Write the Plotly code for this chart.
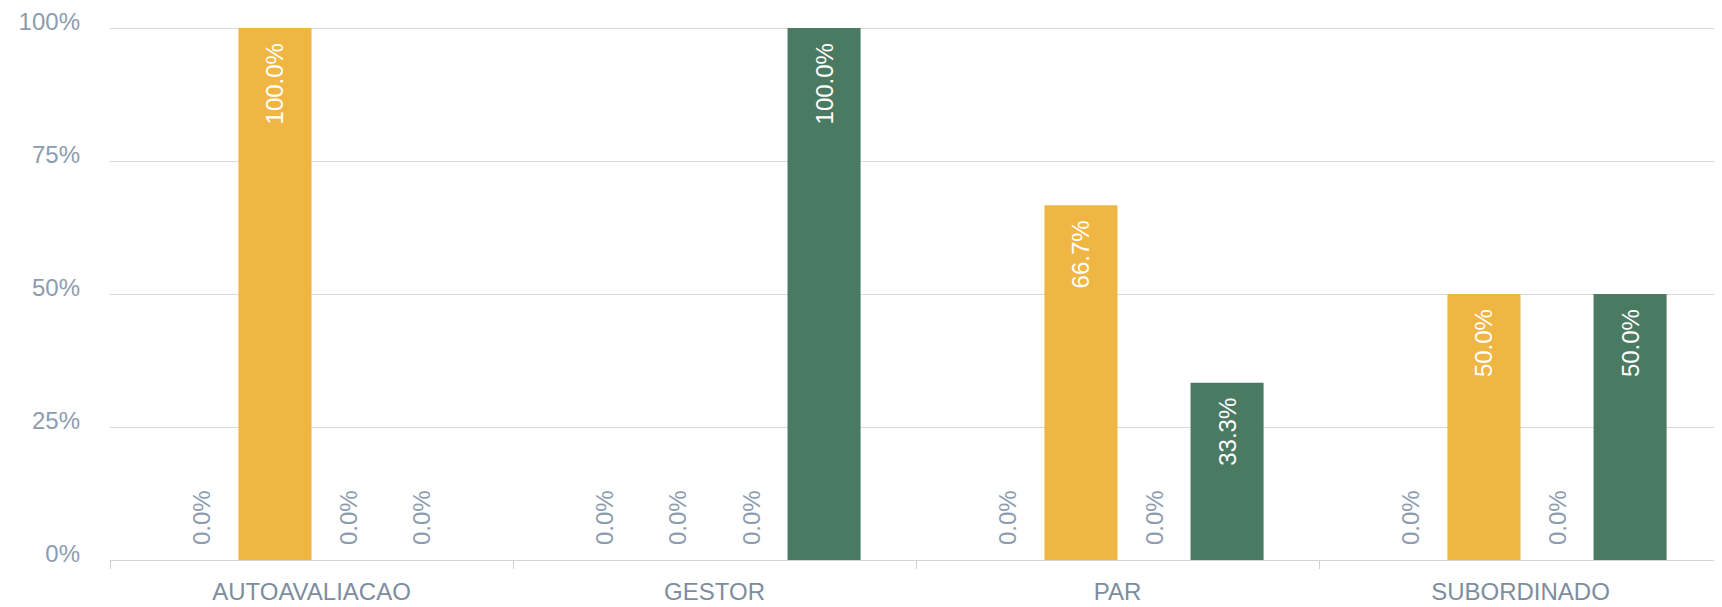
import plotly.graph_objects as go

categories = ["AUTOAVALIACAO", "GESTOR", "PAR", "SUBORDINADO"]
series_names = ["Série 1", "Série 2", "Série 3", "Série 4"]
series_values = [
    [0.0, 0.0, 0.0, 0.0],
    [1.0, 0.0, 0.6667, 0.5],
    [0.0, 0.0, 0.0, 0.0],
    [0.0, 1.0, 0.3333, 0.5],
]
series_colors = ["#5B8DB8", "#F0B643", "#A0A0A0", "#4A7A62"]
y_ticks = [0, 0.25, 0.5, 0.75, 1.0]
y_ticktext = ["0%", "25%", "50%", "75%", "100%"]

FONT = "Liberation Sans"
GRAY = "#8d9cae"
FS = 24
SP = "\u2002"

fig = go.Figure()
for name, vals, col in zip(series_names, series_values, series_colors):
    fig.add_trace(go.Bar(
        x=categories, y=vals, name=name,
        marker=dict(color=col, line=dict(width=0)),
        texttemplate=[(SP + "%{y:.1%}") if v == 0 else ("%{y:.1%}" + SP) for v in vals],
        textposition=["outside" if v == 0 else "inside" for v in vals],
        insidetextanchor="end",
        textangle=-90,
        insidetextfont=dict(family=FONT, size=FS, color="white"),
        outsidetextfont=dict(family=FONT, size=FS, color=GRAY),
        constraintext="none",
        cliponaxis=False,
        hoverinfo="skip",
    ))

# page body has an 8px margin: offset figure size/margins accordingly
fig.update_layout(
    width=1714, height=599,
    margin=dict(l=102, r=0, t=17, b=47),
    paper_bgcolor="white", plot_bgcolor="white",
    barmode="group", bargap=0.275, bargroupgap=0,
    showlegend=False,
    font=dict(family=FONT, size=FS, color=GRAY),
)
fig.update_yaxes(
    range=[0, 1.002], tickvals=y_ticks, ticktext=y_ticktext,
    showgrid=True, gridcolor="#d9d9d9", gridwidth=1,
    zeroline=False, showline=False, ticks="", ticklabelstandoff=29,
    ticklabelshift=-6, ticklabeloverflow="allow",
    tickfont=dict(family=FONT, size=FS, color=GRAY),
)
fig.update_xaxes(
    showline=True, linecolor="#d4d4d4", linewidth=1,
    ticks="outside", tickson="boundaries", ticklen=8, tickcolor="#c8d0dc",
    ticklabelstandoff=10,
    tickfont=dict(family=FONT, size=FS, color="#7d8d9f"),
    showgrid=False,
)
fig.write_html("out.html")
